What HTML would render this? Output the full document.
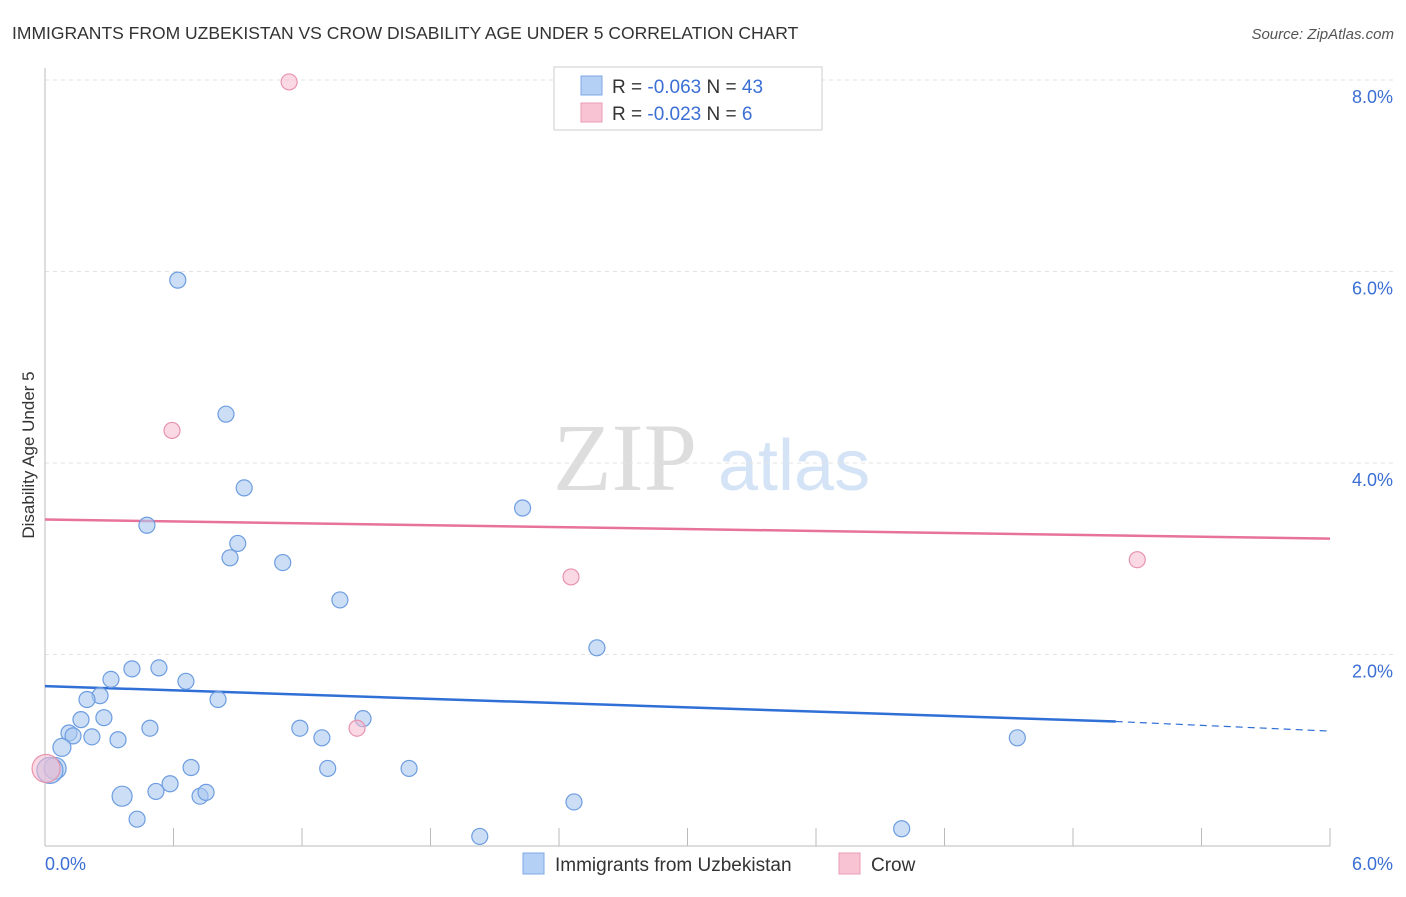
<!DOCTYPE html>
<html><head><meta charset="utf-8"><style>
body{margin:0;background:#fff;font-family:"Liberation Sans",sans-serif;}
svg text{font-family:"Liberation Sans",sans-serif;}
</style></head><body>
<svg id="chart" width="1406" height="892" xmlns="http://www.w3.org/2000/svg">
<text x="12" y="39" font-size="17.5" fill="#333">IMMIGRANTS FROM UZBEKISTAN VS CROW DISABILITY AGE UNDER 5 CORRELATION CHART</text>
<text x="1394" y="39" font-size="15" fill="#555" text-anchor="end" font-style="italic">Source: ZipAtlas.com</text>
<g>
<text x="553" y="490" font-size="96" fill="#ddd" font-family="Liberation Serif" style="font-family:'Liberation Serif',serif">ZIP</text>
<text x="718" y="490" font-size="72" fill="#d4e3f5">atlas</text>
</g>
<text transform="translate(34,455) rotate(-90)" font-size="17" fill="#333" text-anchor="middle">Disability Age Under 5</text>
<g id="grid"></g><g id="axes"></g><g id="trends"></g><g id="points"></g>
<g>
<rect x="554" y="67" width="268" height="63" fill="#fff" stroke="#ccc"/>
<rect x="581" y="76" width="21" height="19" fill="#b5d0f5" stroke="#7ea8e5"/>
<rect x="581" y="103" width="21" height="19" fill="#f8c4d3" stroke="#eb9bb4"/>
<text x="612" y="93" font-size="19" fill="#333">R = <tspan fill="#3b6fd4">-0.063</tspan>   N = <tspan fill="#3b6fd4">43</tspan></text>
<text x="612" y="120" font-size="19" fill="#333">R = <tspan fill="#3b6fd4">-0.023</tspan>   N =   <tspan fill="#3b6fd4"> 6</tspan></text>
</g>
<g>
<rect x="523" y="853" width="21" height="21" fill="#b5d0f5" stroke="#7ea8e5"/>
<text x="555" y="871" font-size="19" fill="#333">Immigrants from Uzbekistan</text>
<rect x="839" y="853" width="21" height="21" fill="#f8c4d3" stroke="#eb9bb4"/>
<text x="871" y="871" font-size="19" fill="#333">Crow</text>
</g>
</svg>
<script>
const yTicks=[2,4,6,8];
const yTickLabels=["2.0%","4.0%","6.0%","8.0%"];
const xTickLabels=["0.0%","6.0%"];
const blueX=[0.62,0.845,0.93,0.476,0.90,0.864,1.11,2.23,1.377,2.577,0.406,0.532,0.308,0.658,0.257,0.196,0.808,0.168,0.275,0.112,0.131,0.219,0.341,0.49,1.19,1.293,1.485,0.079,0.047,0.023,0.682,1.32,1.70,0.36,0.518,0.584,0.724,0.752,0.43,2.47,2.03,4.00,4.54];
const blueY=[5.91,4.51,3.74,3.35,3.16,3.01,2.96,3.53,2.57,2.07,1.85,1.86,1.74,1.72,1.57,1.53,1.53,1.32,1.34,1.18,1.15,1.14,1.11,1.23,1.23,1.13,1.33,1.03,0.81,0.79,0.82,0.81,0.81,0.52,0.57,0.65,0.52,0.56,0.28,0.46,0.10,0.18,1.13];
const blueR=[8,8,8,8,8,8,8,8,8,8,8,8,8,8,8,8,8,8,8,8,8,8,8,8,8,8,8,9,11,13,8,8,8,10,8,8,8,8,8,8,8,8,8];
const pinkX=[1.14,0.593,2.456,5.10,1.457,0.005];
const pinkY=[7.98,4.34,2.81,2.99,1.23,0.81];
const pinkR=[8,8,8,8,8,14];
const blueTrend=[1.67,1.30,1.20];
const blueTrendX=[0,5.0,6];
const pinkTrend=[3.41,3.21];
const NS="http://www.w3.org/2000/svg";
const X0=45,X1=1330,Y0=846,PY=95.75;
const xs=v=>X0+v/6*(X1-X0);
const ys=v=>Y0-v*PY;
function mk(tag,attrs,parent){const e=document.createElementNS(NS,tag);for(const k in attrs)e.setAttribute(k,attrs[k]);document.getElementById(parent).appendChild(e);return e;}
yTicks.forEach((t,i)=>{
 const l=mk('line',{x1:X0,x2:1393,y1:ys(t),y2:ys(t),stroke:'#e3e3e3','stroke-dasharray':'4,4'},'grid');
 
 
 const tx=mk('text',{x:1393,y:ys(t)+23,'font-size':18,fill:'#3b6fd4','text-anchor':'end'},'grid');
 tx.textContent=yTickLabels[i];
 
 
});
const ax=mk('line',{x1:X0,x2:X1,y1:Y0,y2:Y0,stroke:'#bbb'},'axes');


const ay=mk('line',{x1:X0,x2:X0,y1:68,y2:Y0,stroke:'#bbb'},'axes');


for(let i=0;i<=10;i++){
 const tk=mk('line',{x1:xs(i*0.6),x2:xs(i*0.6),y1:828,y2:Y0,stroke:'#bbb'},'axes');
 
 
}
const xl0=mk('text',{x:45,y:870,'font-size':18,fill:'#3b6fd4'},'axes');xl0.textContent=xTickLabels[0];


const xl1=mk('text',{x:1393,y:870,'font-size':18,fill:'#3b6fd4','text-anchor':'end'},'axes');xl1.textContent=xTickLabels[1];


const bt1=mk('line',{x1:xs(blueTrendX[0]),y1:ys(blueTrend[0]),x2:xs(blueTrendX[1]),y2:ys(blueTrend[1]),stroke:'#2f6fd6','stroke-width':2.5},'trends');


const bt2=mk('line',{x1:xs(blueTrendX[1]),y1:ys(blueTrend[1]),x2:xs(blueTrendX[2]),y2:ys(blueTrend[2]),stroke:'#2f6fd6','stroke-width':1.2,'stroke-dasharray':'7,5'},'trends');


const pt=mk('line',{x1:xs(0),y1:ys(pinkTrend[0]),x2:xs(6),y2:ys(pinkTrend[1]),stroke:'#e8739a','stroke-width':2.5},'trends');


blueX.forEach((v,i)=>{
 const c=mk('circle',{cx:xs(v),cy:ys(blueY[i]),r:blueR[i],fill:'rgba(170,200,240,0.6)',stroke:'#6d9de0','stroke-width':1.2},'points');
 
 
});
pinkX.forEach((v,i)=>{
 const c=mk('circle',{cx:xs(v),cy:ys(pinkY[i]),r:pinkR[i],fill:'rgba(245,185,205,0.55)',stroke:'#e893ad','stroke-width':1.2},'points');
 
 
});
</script>
</body></html>
